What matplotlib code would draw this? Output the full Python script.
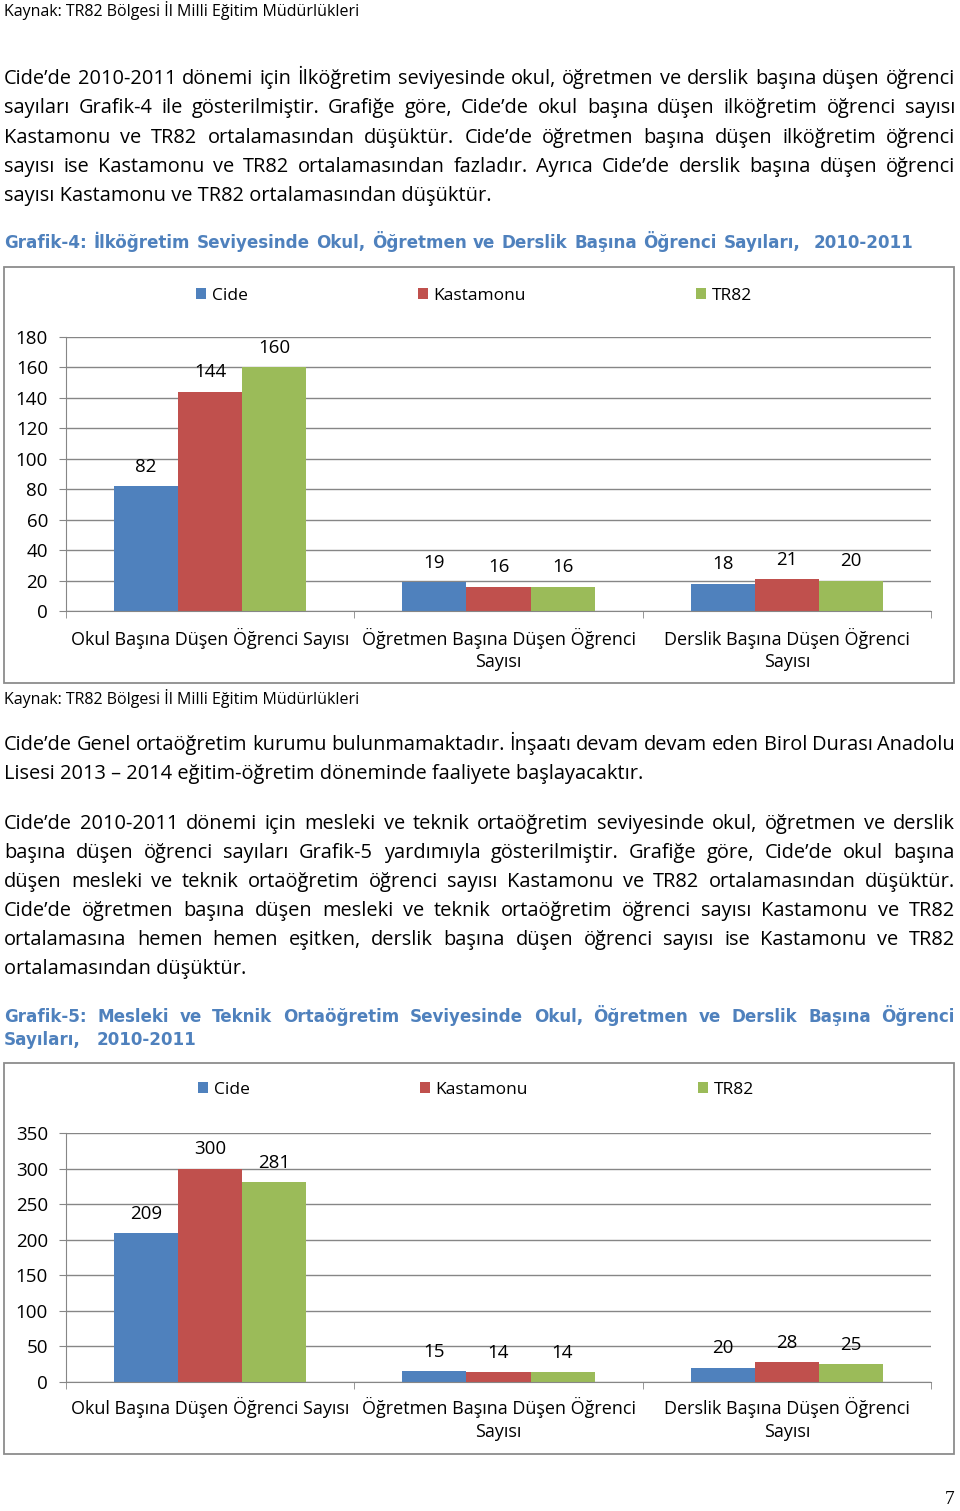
import matplotlib
matplotlib.use("Agg")
import matplotlib.pyplot as plt
import numpy as np
from matplotlib.patches import Rectangle

plt.rcParams["font.family"] = ["Open Sans", "DejaVu Sans"]

# --- Data ---
series = ["Cide", "Kastamonu", "TR82"]
categories = ["Okul Başına Düşen Öğrenci Sayısı",
              "Öğretmen Başına Düşen Öğrenci\nSayısı",
              "Derslik Başına Düşen Öğrenci\nSayısı"]
g4_cide = [82, 19, 18]
g4_kastamonu = [144, 16, 21]
g4_tr82 = [160, 16, 20]
g5_cide = [209, 15, 20]
g5_kastamonu = [300, 14, 28]
g5_tr82 = [281, 14, 25]

colors = ["#4F81BD", "#C0504D", "#9BBB59"]
title_blue = "#4F81BD"
grid_gray = "#868686"
title_font = ["DejaVu Sans"]

W, H = 960, 1511
fig = plt.figure(figsize=(W / 100, H / 100), dpi=100)
page = fig.add_axes([0, 0, 1, 1])
page.set_xlim(0, W)
page.set_ylim(H, 0)
page.axis("off")
renderer = fig.canvas.get_renderer()


def line(y, text, x1=None, x0=4, size=14.4, weight="normal", color="black", family=None):
    # one line of text on the baseline, optionally justified between x0 and x1
    yb = y + 0.36 * size * 100 / 72
    kw = dict(fontsize=size, fontweight=weight, color=color, va="baseline", ha="left")
    if family:
        kw["family"] = family
    if x1 is None:
        page.text(x0, yb, text, **kw)
        return
    words = text.split(" ")
    arts = [page.text(0, yb, w, **kw) for w in words]
    widths = [a.get_window_extent(renderer).width if w else 0 for a, w in zip(arts, words)]
    gap = (x1 - x0 - sum(widths)) / (len(words) - 1)
    x = x0
    for a, w in zip(arts, widths):
        a.set_x(x)
        x += w + gap


def px_axes(left, right, top, bottom):
    return fig.add_axes([left / W, 1 - bottom / H, (right - left) / W, (bottom - top) / H])


def bar_chart(ax, vals, ymax, step, fs, pad, lsp):
    x = np.arange(len(categories))
    width = 0.222
    for i, (v, c) in enumerate(zip(vals, colors)):
        bars = ax.bar(x + (i - 1) * width, v, width, color=c, label=series[i], zorder=2)
        for b in bars:
            ax.annotate(f"{b.get_height():.0f}", (b.get_x() + b.get_width() / 2, b.get_height()),
                        xytext=(0, 14), textcoords="offset points", ha="center", va="center",
                        fontsize=fs + 0.5)
    ax.set_xlim(-0.5, 2.5)
    ax.set_ylim(0, ymax)
    ax.set_yticks(np.arange(0, ymax + 1, step))
    ax.set_xticks(x, categories, fontsize=fs, linespacing=lsp)
    ax.set_xticks([-0.5, 0.5, 1.5, 2.5], minor=True)
    ax.tick_params(axis="x", which="major", length=0, pad=pad)
    ax.tick_params(axis="x", which="minor", length=5, color=grid_gray, direction="out")
    ax.tick_params(axis="y", length=5, color=grid_gray, labelsize=fs + 0.5, pad=8)
    ax.yaxis.grid(True, color=grid_gray, linewidth=1)
    ax.set_axisbelow(True)
    ax.set_facecolor("none")
    for s in ["top", "right"]:
        ax.spines[s].set_visible(False)
    for s in ["left", "bottom"]:
        ax.spines[s].set_color(grid_gray)


def legend(ax, x0, y, fs):
    ax.legend(loc="center left", bbox_to_anchor=(x0 / W, 1 - y / H),
              bbox_transform=fig.transFigure, ncol=3, frameon=False, fontsize=fs,
              handlelength=0.6, handleheight=0.6, handletextpad=0.3,
              columnspacing=9.8, borderpad=0, borderaxespad=0)


# --- Page text ---
line(10, "Kaynak: TR82 Bölgesi İl Milli Eğitim Müdürlükleri", size=11.5)

p1 = ["Cide’de 2010-2011 dönemi için İlköğretim seviyesinde okul, öğretmen ve derslik başına düşen öğrenci",
      "sayıları Grafik-4 ile gösterilmiştir. Grafiğe göre, Cide’de okul başına düşen ilköğretim öğrenci sayısı",
      "Kastamonu ve TR82 ortalamasından düşüktür. Cide’de öğretmen başına düşen ilköğretim öğrenci",
      "sayısı ise Kastamonu ve TR82 ortalamasından fazladır. Ayrıca Cide’de derslik başına düşen öğrenci"]
for i, t in enumerate(p1):
    line(77 + i * 29.2, t, x1=955)
line(194, "sayısı Kastamonu ve TR82 ortalamasından düşüktür.")

line(242, "Grafik-4: İlköğretim Seviyesinde Okul, Öğretmen ve Derslik Başına Öğrenci Sayıları,  2010-2011",
     x1=913, size=12.1, weight="bold", color=title_blue, family=title_font)

page.add_patch(Rectangle((4, 267), 950, 416, fill=False, edgecolor="#8C8C8C", linewidth=1.3))

line(698, "Kaynak: TR82 Bölgesi İl Milli Eğitim Müdürlükleri", size=11.5)

line(743, "Cide’de Genel ortaöğretim kurumu bulunmamaktadır. İnşaatı devam devam eden Birol Durası Anadolu",
     x1=955)
line(772, "Lisesi 2013 – 2014 eğitim-öğretim döneminde faaliyete başlayacaktır.")

p3 = ["Cide’de 2010-2011 dönemi için mesleki ve teknik ortaöğretim seviyesinde okul, öğretmen ve derslik",
      "başına düşen öğrenci sayıları Grafik-5 yardımıyla gösterilmiştir. Grafiğe göre, Cide’de okul başına",
      "düşen mesleki ve teknik ortaöğretim öğrenci sayısı Kastamonu ve TR82 ortalamasından düşüktür.",
      "Cide’de öğretmen başına düşen mesleki ve teknik ortaöğretim öğrenci sayısı Kastamonu ve TR82",
      "ortalamasına hemen hemen eşitken, derslik başına düşen öğrenci sayısı ise Kastamonu ve TR82"]
for i, t in enumerate(p3):
    line(822 + i * 29, t, x1=955)
line(967, "ortalamasından düşüktür.")

line(1016, "Grafik-5: Mesleki ve Teknik Ortaöğretim Seviyesinde Okul, Öğretmen ve Derslik Başına Öğrenci",
     x1=955, size=12.1, weight="bold", color=title_blue, family=title_font)
line(1039, "Sayıları,  2010-2011", x1=196, size=12.1, weight="bold", color=title_blue, family=title_font)

page.add_patch(Rectangle((4, 1063), 950, 391, fill=False, edgecolor="#8C8C8C", linewidth=1.3))

page.text(950, 1500, "7", fontsize=14, family=["Liberation Serif", "DejaVu Serif"],
          ha="center", va="center")

# --- Grafik-4 ---
ax1 = px_axes(66, 931, 337, 611)
bar_chart(ax1, [g4_cide, g4_kastamonu, g4_tr82], 180, 20, 13, 12, 1.3)
legend(ax1, 196, 296, 12.5)

# --- Grafik-5 ---
ax2 = px_axes(66, 931, 1133, 1382)
bar_chart(ax2, [g5_cide, g5_kastamonu, g5_tr82], 350, 50, 13, 11, 1.3)
legend(ax2, 198, 1090, 12.5)

fig.savefig("out.png", dpi=100)
